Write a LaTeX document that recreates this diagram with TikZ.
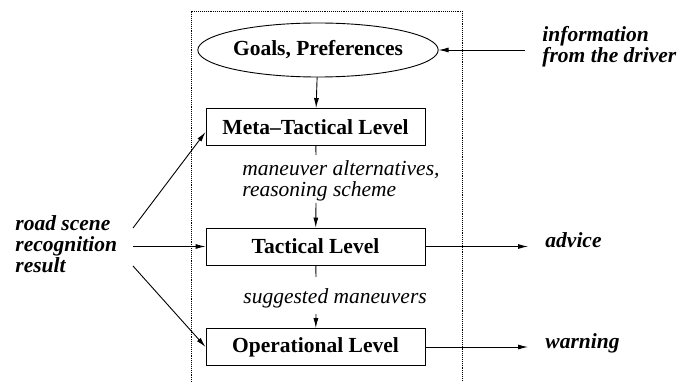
\documentclass[tikz,border=0pt]{standalone}
\usepackage{fontspec}
\setmainfont{Liberation Serif}
\usetikzlibrary{shapes.geometric,arrows.meta}
\newcommand{\bigfont}{\fontsize{21.5}{21}\selectfont}
\tikzset{
    level/.style = {
        rectangle,
        draw,
        minimum width = 219pt,
        minimum height = 37pt,
        font = \bfseries\bigfont,
    },
    goal/.style = {
        ellipse,
        draw,
        minimum width = 237pt,
        minimum height = 54pt,
        inner sep = 0pt,
        font = \bfseries\bigfont,
    },
    outlabel/.style = {align=left, anchor=west, inner sep=0pt, font=\bfseries\itshape\bigfont},
    inlabel/.style = {align=left, anchor=north west, inner sep=0pt, font=\itshape\bigfont},
    edge/.style = {-{Latex[length=10pt,width=5pt]}},
    frame/.style = {densely dotted}
}
\begin{document}
\begin{tikzpicture}[x=1pt, y=-1pt, line width=0.9pt]
  \useasboundingbox (0,0) rectangle (692,382);

  % dotted frame round the decision levels
  \draw[frame] (191,382) -- (191,11) -- (462,11) -- (462,382);

  % nodes
  \node[goal]  (goals) at (318,50)    {Goals, Preferences};
  \node[level] (meta)  at (315.5,127) {Meta--Tactical Level};
  \node[level] (tac)   at (315.5,246.5) {Tactical Level};
  \node[level] (op)    at (315.5,347) {Operational Level};

  \node[inlabel] (alt) at (242,160) {maneuver alternatives,\\reasoning scheme};
  \node[inlabel] (sug) at (243,288) {suggested maneuvers};

  \node[outlabel] (road)   at (15,244)  {road scene\\recognition\\result};
  \node[outlabel] (info)   at (542,47)  {information\\from the driver};
  \node[outlabel, anchor=base west] (advice)  at (545,247) {advice};
  \node[outlabel, anchor=base west] (warning) at (545,348) {warning};

  % free ends of the connectors
  \coordinate (i1) at (525,50);
  \coordinate (m1) at (316,155);
  \coordinate (m2) at (316,203);
  \coordinate (s1) at (316,277);
  \coordinate (s2) at (316,314);
  \coordinate (r1) at (133,228);
  \coordinate (r2) at (133,246.5);
  \coordinate (r3) at (133,266);
  \coordinate (o1) at (528,246.5);
  \coordinate (o2) at (528,347);

  % top of the levels
  \draw[edge] (i1) -- (goals.east);
  \draw[edge] (goals) -- (meta);

  % between the levels
  \draw (meta) -- (m1);
  \draw[edge] (m2) -- (tac);
  \draw (tac) -- (s1);
  \draw[edge] (s2) -- (op);

  % inputs from the road scene
  \draw[edge] (r1) -- ([yshift=-5pt]meta.west);
  \draw[edge] (r2) -- (tac.west);
  \draw[edge] (r3) -- (op.west);

  % outputs
  \draw[edge] (tac.east) -- (o1);
  \draw[edge] (op.east) -- (o2);

\end{tikzpicture}
\end{document}
